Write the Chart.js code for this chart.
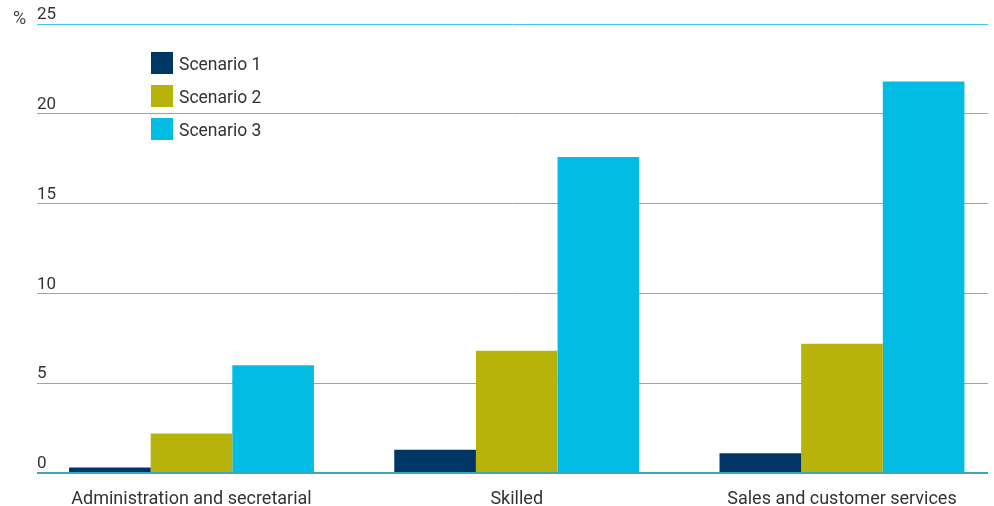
<!DOCTYPE html>
<html>
<head>
<meta charset="utf-8">
<script src="https://cdn.jsdelivr.net/npm/chart.js"></script>
<style>
  html, body { margin: 0; padding: 0; background: #fff; overflow: hidden; }
  #wrap { width: 994px; height: 506px; position: relative; }
</style>
</head>
<body>
<div id="wrap"><canvas id="myChart"></canvas></div>
<script>
const categories = ['Administration and secretarial', 'Skilled', 'Sales and customer services'];
const scenarioNames = ['Scenario 1', 'Scenario 2', 'Scenario 3'];
const scenario1 = [0.3, 1.3, 1.1];
const scenario2 = [2.2, 6.8, 7.2];
const scenario3 = [6.0, 17.6, 21.8];
const yTicks = [0, 5, 10, 15, 20, 25];
const unitLabel = '%';

const colors = ['#003665', '#b7b30a', '#02bce4'];
const textColor = '#333333';
const fontFamily = 'Roboto, "Noto Sans", sans-serif';

const toPoints = arr => arr.map((v, i) => ({ x: i, y: v }));

// legend + % label drawn straight on the canvas
const extras = {
  id: 'extras',
  afterDraw(chart) {
    const c = chart.ctx;
    c.save();
    c.font = '18px ' + fontFamily;
    c.fillStyle = '#444';
    c.textBaseline = 'middle';
    c.textAlign = 'left';
    c.fillText(unitLabel, 13, 19);
    c.font = '17.5px ' + fontFamily;
    chart.data.datasets.forEach((ds, i) => {
      const y = 52 + i * 33;
      c.fillStyle = ds.backgroundColor;
      c.fillRect(151, y, 22, 22);
      c.fillStyle = textColor;
      c.fillText(ds.label, 179, y + 14);
    });
    c.restore();
  }
};

const ctx = document.getElementById('myChart');

const chart = new Chart(ctx, {
  type: 'bar',
  data: {
    datasets: [
      { label: scenarioNames[0], data: toPoints(scenario1), backgroundColor: colors[0] },
      { label: scenarioNames[1], data: toPoints(scenario2), backgroundColor: colors[1] },
      { label: scenarioNames[2], data: toPoints(scenario3), backgroundColor: colors[2] }
    ]
  },
  options: {
    responsive: true,
    maintainAspectRatio: false,
    animation: false,
    categoryPercentage: 0.753,
    barPercentage: 1,
    layout: { padding: { left: 37, right: 6, top: 24, bottom: 0 } },
    plugins: {
      legend: { display: false },
      tooltip: { enabled: false }
    },
    scales: {
      x: {
        type: 'linear',
        min: -0.475,
        max: 2.449,
        offset: false,
        grid: { display: false, offset: false },
        border: { display: false },
        afterBuildTicks: s => { s.ticks = categories.map((c, i) => ({ value: i })); },
        afterFit: s => { s.height = 33; },
        ticks: {
          autoSkip: false,
          maxRotation: 0,
          padding: 8,
          color: textColor,
          font: { family: fontFamily, size: 18 },
          callback: v => categories[v]
        }
      },
      y: {
        min: 0,
        max: 25,
        afterBuildTicks: s => { s.ticks = yTicks.map(v => ({ value: v })); },
        afterFit: s => { s.width = 0; },
        border: { display: false },
        grid: {
          drawTicks: false,
          color: c => c.tick && c.tick.value === 0 ? '#3fa3c6' : '#3cc8ee',
          lineWidth: c => c.tick && c.tick.value === 0 ? 2 : 1
        },
        ticks: {
          mirror: true,
          padding: 0,
          labelOffset: -9,
          color: textColor,
          font: { family: fontFamily, size: 17 }
        }
      }
    }
  },
  plugins: [extras]
});
</script>
</body>
</html>
